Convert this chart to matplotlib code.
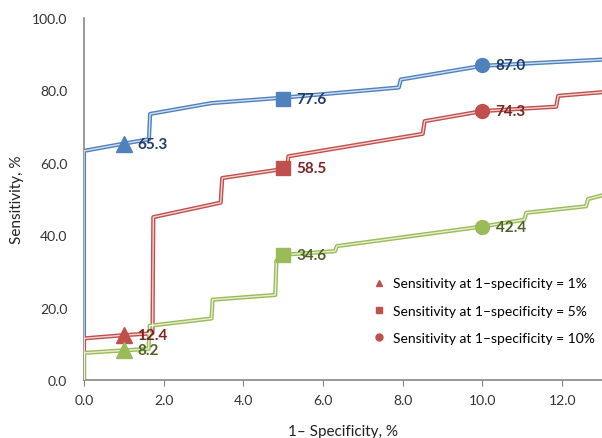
import matplotlib
matplotlib.use("Agg")
import matplotlib.pyplot as plt
from matplotlib.lines import Line2D

plt.rcParams['font.family'] = ['Lato', 'DejaVu Sans']

# curve data (1-specificity %, sensitivity %)
blue_x = [0, 0, 1.0, 1.63, 1.66, 3.2, 5.0, 7.9, 7.95, 10.0, 13.0]
blue_y = [0, 63.3, 65.3, 66.5, 73.5, 76.5, 78.0, 80.8, 83.0, 86.8, 88.5]

red_x = [0, 0, 1.0, 1.72, 1.74, 3.43, 3.47, 5.0, 5.1, 5.13, 8.5, 8.55, 10.0, 11.85, 11.9, 13.0]
red_y = [0, 11.5, 12.4, 12.9, 45.0, 49.0, 55.8, 58.3, 58.8, 61.8, 68.0, 71.5, 74.3, 75.5, 78.5, 79.5]

green_x = [0, 0, 1.0, 1.62, 1.65, 3.2, 3.23, 4.8, 4.83, 5.0, 6.3, 6.35, 10.0, 11.05, 11.1, 12.6, 12.65, 13.0]
green_y = [0, 7.5, 8.2, 8.6, 15.0, 17.0, 22.2, 23.5, 33.0, 34.6, 35.6, 37.0, 42.4, 44.3, 46.2, 48.0, 50.0, 51.0]

# highlighted points at 1%, 5%, 10%
pt_x = [1.0, 5.0, 10.0]
blue_pts = [65.3, 77.6, 87.0]
red_pts = [12.4, 58.5, 74.3]
green_pts = [8.2, 34.6, 42.4]
markers = ['^', 's', 'o']
msizes = [12, 10, 10]

series = [
    (blue_x, blue_y, blue_pts, '#4F81BD', '#1F3A66'),
    (red_x, red_y, red_pts, '#C0504D', '#7A2522'),
    (green_x, green_y, green_pts, '#9BBB59', '#4F6228'),
]

fig = plt.figure(figsize=(6.02, 4.39), dpi=100)
ax = fig.add_axes([0.1395, 0.132, 0.8605, 0.8247])

for xs, ys, pts, col, tcol in series:
    ax.plot(xs, ys, color=col, lw=3.0, solid_joinstyle='round', zorder=2)
    ax.plot(xs, ys, color='white', lw=1.0, alpha=0.75, zorder=3)
    for x, v, m, ms in zip(pt_x, pts, markers, msizes):
        ax.plot(x, v, marker=m, ms=ms, color=col, ls='none', zorder=4)
        ax.text(x + 0.33, v, f'{v:.1f}', color=tcol, fontsize=11,
                fontweight='bold', va='center', ha='left', zorder=5)

ax.set_xlim(0, 13)
ax.set_ylim(0, 100)
ax.set_xticks([0, 2, 4, 6, 8, 10, 12])
ax.set_yticks([0, 20, 40, 60, 80, 100])
ax.xaxis.set_major_formatter(plt.FuncFormatter(lambda v, p: f'{v:.1f}'))
ax.yaxis.set_major_formatter(plt.FuncFormatter(lambda v, p: f'{v:.1f}'))
ax.tick_params(axis='x', length=4, direction='out', colors='#808080',
               labelcolor='#333333', labelsize=10, pad=6)
ax.tick_params(axis='y', length=0, labelcolor='#333333', labelsize=10, pad=12)

for s in ['top', 'right']:
    ax.spines[s].set_visible(False)
for s in ['left', 'bottom']:
    ax.spines[s].set_color('#888888')
    ax.spines[s].set_linewidth(1.2)

ax.set_ylabel('Sensitivity, %', fontsize=11, color='#222222', labelpad=6)
ax.set_xlabel('1\u2013 Specificity, %', fontsize=11, color='#222222', labelpad=13)

handles = [Line2D([], [], marker=m, color='#C0504D', ls='none', ms=5) for m in markers]
labels = ['Sensitivity at 1\u2013specificity = 1%',
          'Sensitivity at 1\u2013specificity = 5%',
          'Sensitivity at 1\u2013specificity = 10%']
ax.legend(handles, labels, loc='lower right', bbox_to_anchor=(1.01, 0.065),
          frameon=False, fontsize=10, labelspacing=1.1, handletextpad=0.4,
          handlelength=1.2)

fig.savefig('out.png', dpi=100)
